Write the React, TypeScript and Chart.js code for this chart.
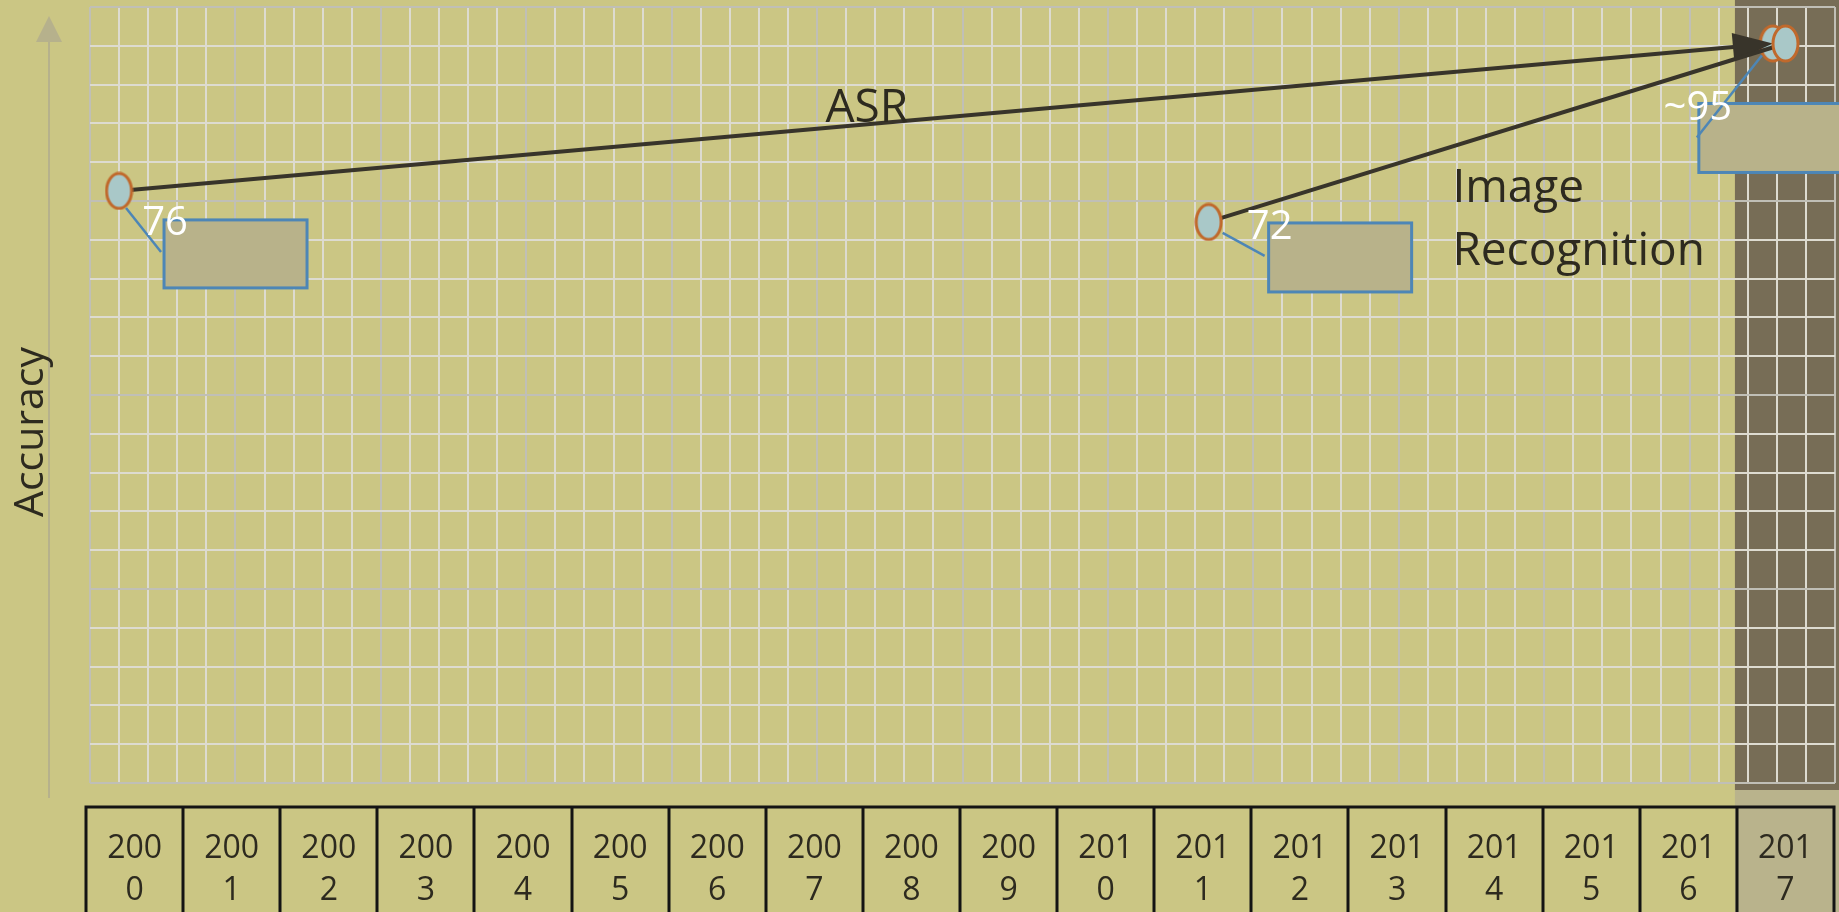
import React, { useEffect, useRef } from 'react';
import { Chart, registerables } from 'chart.js';

Chart.register(...registerables);

// ---------- data ----------
const YEARS = [2000, 2001, 2002, 2003, 2004, 2005, 2006, 2007, 2008, 2009, 2010, 2011, 2012, 2013, 2014, 2015, 2016, 2017];
const ASR_YEARS = [1999.84, 2016.87];
const ASR_ACCURACY = [76, 95];
const IMAGE_YEARS = [2011.06, 2017.0];
const IMAGE_ACCURACY = [72, 95];
const CALLOUT_TEXT = ['76', '72', '~95'];
const HIGHLIGHT_YEAR = 2017;
const GRID_COLUMNS = 60;
const GRID_ROWS = 20;

// ---------- styles ----------
const BG = '#cbc684';
const DARK_BAND = '#776d56';
const HILITE_FILL = '#b9b38c';
const LIGHT_GRID = '#dddbd0';
const DARK_GRID = '#c0bfb6';
const TEXT = '#2d2a1f';
const LINE = '#38342a';
const BLUE = '#4d86b6';
const BOX_FILL = '#b8b28a';
const POINT_FILL = '#a9c8c8';
const POINT_STROKE = '#c0692c';
const FONT = "'Open Sans', 'Noto Sans', sans-serif";

// callout layout (pixel offsets from the anchored point)
const CALLOUTS = [
  { ds: 1, pt: 0, box: [45, 29, 143, 68], ptr: [7, 17, 42, 61], label: [46, 33] },
  { ds: 0, pt: 0, box: [60, 1, 143, 69], ptr: [14, 11, 56, 34], label: [61, 6] },
  { ds: 1, pt: 1, box: [-74, 60, 143, 69], ptr: [-11, 12, -76, 94], label: [-75, 65] },
];
const TEXT_NOTES = [
  { lines: ['ASR'], x: 2007.54, y: 84.9, align: 'center' },
  { lines: ['Image', 'Recognition'], x: 2013.57, y: 74.6, align: 'left' },
];

function makeEllipse(w: number, h: number) {
  const c = document.createElement('canvas');
  c.width = w;
  c.height = h;
  const g = c.getContext('2d')!;
  g.beginPath();
  g.ellipse(w / 2, h / 2, w / 2 - 2, h / 2 - 2, 0, 0, Math.PI * 2);
  g.fillStyle = POINT_FILL;
  g.fill();
  g.lineWidth = 3;
  g.strokeStyle = POINT_STROKE;
  g.stroke();
  return c;
}

const decorPlugin = {
  id: 'decor',
  beforeDraw(chart: any) {
    const { ctx, chartArea: a, scales } = chart;
    const xs = scales.x;
    ctx.save();
    ctx.fillStyle = BG;
    ctx.fillRect(0, 0, chart.width, chart.height);
    const hx = xs.getPixelForValue(HIGHLIGHT_YEAR - 0.5) - 2;
    ctx.fillStyle = DARK_BAND;
    ctx.fillRect(hx, 0, chart.width - hx, a.bottom + 7);
    ctx.fillStyle = HILITE_FILL;
    ctx.fillRect(hx, a.bottom + 7, chart.width - hx, chart.height - a.bottom - 7);
    // year boxes
    const top = a.bottom + 24;
    ctx.strokeStyle = '#141414';
    ctx.lineWidth = 3;
    const x0 = xs.getPixelForValue(YEARS[0] - 0.5);
    const x1 = xs.getPixelForValue(YEARS[YEARS.length - 1] + 0.5);
    ctx.beginPath();
    ctx.moveTo(x0 - 1.5, top);
    ctx.lineTo(x1 + 1.5, top);
    for (const yv of YEARS) {
      const px = Math.round(xs.getPixelForValue(yv - 0.5));
      ctx.moveTo(px, top);
      ctx.lineTo(px, chart.height);
    }
    ctx.moveTo(Math.round(x1), top);
    ctx.lineTo(Math.round(x1), chart.height);
    ctx.stroke();
    ctx.restore();
  },
  afterDatasetDraw(chart: any, args: any) {
    if (args.index !== 1) return;
    const pts = chart.getDatasetMeta(1).data;
    const p0 = pts[pts.length - 2];
    const p1 = pts[pts.length - 1];
    const ang = Math.atan2(p1.y - p0.y, p1.x - p0.x);
    const { ctx } = chart;
    ctx.save();
    ctx.translate(p1.x, p1.y);
    ctx.rotate(ang);
    ctx.beginPath();
    ctx.moveTo(0, 0);
    ctx.lineTo(-40, -14);
    ctx.lineTo(-40, 14);
    ctx.closePath();
    ctx.fillStyle = LINE;
    ctx.fill();
    ctx.restore();
  },
  afterDatasetsDraw(chart: any) {
    const { ctx, scales } = chart;
    ctx.save();
    CALLOUTS.forEach((c, i) => {
      const p = chart.getDatasetMeta(c.ds).data[c.pt];
      const [bx, by, bw, bh] = c.box;
      ctx.fillStyle = BOX_FILL;
      ctx.fillRect(p.x + bx, p.y + by, bw, bh);
      ctx.strokeStyle = BLUE;
      ctx.lineWidth = 3;
      ctx.strokeRect(p.x + bx, p.y + by, bw, bh);
      ctx.lineWidth = 2.5;
      ctx.beginPath();
      ctx.moveTo(p.x + c.ptr[0], p.y + c.ptr[1]);
      ctx.lineTo(p.x + c.ptr[2], p.y + c.ptr[3]);
      ctx.stroke();
      ctx.fillStyle = '#ffffff';
      ctx.font = `40px ${FONT}`;
      ctx.textAlign = 'center';
      ctx.textBaseline = 'middle';
      ctx.fillText(CALLOUT_TEXT[i], p.x + c.label[0], p.y + c.label[1]);
    });
    ctx.fillStyle = TEXT;
    ctx.font = `46px ${FONT}`;
    ctx.textBaseline = 'alphabetic';
    TEXT_NOTES.forEach((n) => {
      const px = scales.x.getPixelForValue(n.x);
      const py = scales.y.getPixelForValue(n.y);
      ctx.textAlign = n.align;
      n.lines.forEach((t, k) => ctx.fillText(t, px, py + k * 63));
    });
    ctx.restore();
  },
  afterDraw(chart: any) {
    const { ctx, chartArea: a } = chart;
    ctx.save();
    const ax = a.left - 41;
    ctx.strokeStyle = '#b6b18c';
    ctx.fillStyle = '#b6b18c';
    ctx.lineWidth = 2;
    ctx.beginPath();
    ctx.moveTo(ax, a.top + 30);
    ctx.lineTo(ax, a.bottom + 15);
    ctx.stroke();
    ctx.beginPath();
    ctx.moveTo(ax, a.top + 9);
    ctx.lineTo(ax - 13, a.top + 35);
    ctx.lineTo(ax + 13, a.top + 35);
    ctx.closePath();
    ctx.fill();
    ctx.translate(43, 432);
    ctx.rotate(-Math.PI / 2);
    ctx.fillStyle = TEXT;
    ctx.font = `41px ${FONT}`;
    ctx.textAlign = 'center';
    ctx.textBaseline = 'alphabetic';
    ctx.fillText('Accuracy', 0, 0);
    ctx.restore();
  },
};

export default function App() {
  const ref = useRef<HTMLCanvasElement>(null);
  useEffect(() => {
    document.body.style.margin = '0';
    document.body.style.overflow = 'hidden';
    const ellipse = makeEllipse(29, 39);
    const chart = new Chart(ref.current!, {
      type: 'scatter',
      data: {
        datasets: [
          {
            label: 'Image Recognition',
            data: IMAGE_YEARS.map((x, i) => ({ x, y: IMAGE_ACCURACY[i] })),
            showLine: true,
            borderColor: LINE,
            borderWidth: 4,
            pointStyle: ellipse as any,
            pointRadius: 15,
          },
          {
            label: 'ASR',
            data: ASR_YEARS.map((x, i) => ({ x, y: ASR_ACCURACY[i] })),
            showLine: true,
            borderColor: LINE,
            borderWidth: 4,
            pointStyle: ellipse as any,
            pointRadius: 15,
          },
        ],
      },
      options: {
        animation: false,
        responsive: false,
        devicePixelRatio: 1,
        layout: { autoPadding: false, padding: { left: 90, top: 7, right: 4, bottom: 0 } },
        plugins: { legend: { display: false }, tooltip: { enabled: false } },
        scales: {
          x: {
            type: 'linear',
            position: 'bottom',
            min: 1999.541,
            max: 2017.51,
            grid: { display: false },
            border: { display: false },
            afterBuildTicks: (s: any) => {
              s.ticks = YEARS.map((v) => ({ value: v }));
            },
            afterFit: (s: any) => {
              s.height = 129;
              s.paddingLeft = 0;
              s.paddingRight = 0;
            },
            ticks: {
              autoSkip: false,
              maxRotation: 0,
              padding: 37,
              color: TEXT,
              font: { family: FONT, size: 32, lineHeight: 42 / 32 },
              callback: (v: any) => {
                const s = String(v);
                return [s.slice(0, 3), s.slice(3)];
              },
            },
          },
          y: { type: 'linear', display: false, min: -0.3, max: 99.7 },
          xg: {
            type: 'linear',
            position: 'top',
            min: 0,
            max: GRID_COLUMNS,
            afterBuildTicks: (s: any) => {
              s.ticks = Array.from({ length: GRID_COLUMNS + 1 }, (_, i) => ({ value: i }));
            },
            afterFit: (s: any) => {
              s.height = 0;
            },
            ticks: { display: false },
            border: { display: false },
            grid: {
              drawTicks: false,
              lineWidth: 2,
              color: (c: any) => (c.tick && c.tick.value % 5 === 0 ? DARK_GRID : LIGHT_GRID),
            },
          },
          yg: {
            type: 'linear',
            position: 'left',
            min: 0,
            max: GRID_ROWS,
            afterBuildTicks: (s: any) => {
              s.ticks = Array.from({ length: GRID_ROWS + 1 }, (_, i) => ({ value: i }));
            },
            afterFit: (s: any) => {
              s.width = 0;
            },
            ticks: { display: false },
            border: { display: false },
            grid: {
              drawTicks: false,
              lineWidth: 2,
              color: (c: any) => (c.tick && c.tick.value % 5 === 0 ? DARK_GRID : LIGHT_GRID),
            },
          },
        },
      },
      plugins: [decorPlugin],
    } as any);
    return () => chart.destroy();
  }, []);
  return <canvas ref={ref} width={1839} height={912} style={{ display: 'block' }} />;
}
